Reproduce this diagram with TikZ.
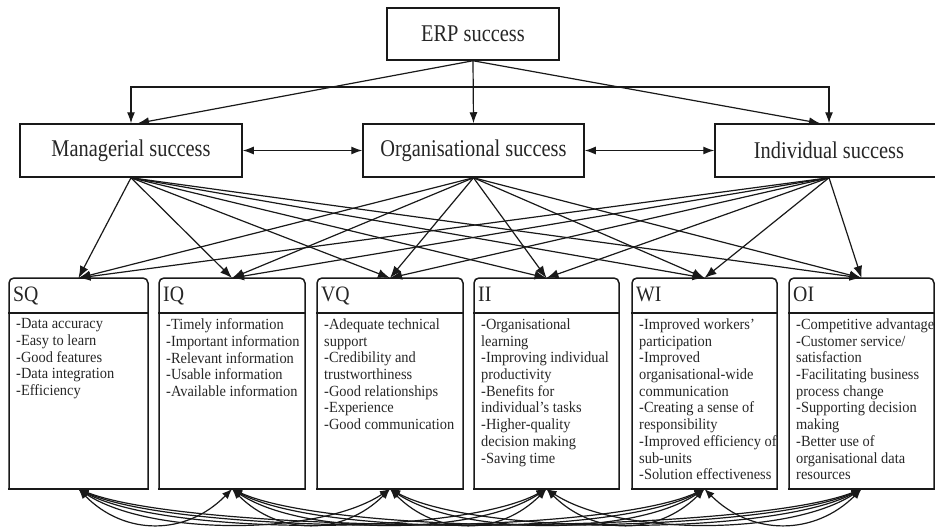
\documentclass[tikz,border=0pt]{standalone}
\usepackage{fontspec}
\setmainfont{Liberation Serif}
\newfontfamily\titlefont[FakeStretch=0.85]{Liberation Serif}
\newfontfamily\hdrfont[FakeStretch=0.9]{Liberation Serif}
\newfontfamily\bodyfont[FakeStretch=0.93]{Liberation Serif}
\usetikzlibrary{arrows.meta,calc}
\definecolor{ink}{gray}{0.1}
\definecolor{txt}{gray}{0.15}
\newcommand\qbox[5]{%
  \node[inner sep=0pt, outer sep=0pt, minimum width={(#3-#2)*1pt}, minimum height=211pt] (#1) at ({(#2+#3)/2},383.5) {};
  \draw[boxline, rounded corners=5pt] (#2,489) -- (#2,278) -- (#3,278) -- (#3,489);
  \draw[boxline] (#2,489) -- (#3,489);
  \draw[boxline] (#2,313) -- (#3,313);
  \node[hdr, anchor=base west] (#1h) at ({#2+4},301) {#4};
  \node[bodytxt, anchor=north west] (#1b) at ({#2+7},318.5) {#5};
}
\begin{document}
\begin{tikzpicture}[x=1pt,y=-1pt,
  boxline/.style={draw=ink, line width=1.5pt, line cap=rect},
  tbox/.style={draw=ink, line width=1.5pt, inner sep=0pt, text=txt,
    font=\titlefont\fontsize{24}{26}\selectfont},
  hdr/.style={inner sep=0pt, text=txt, font=\hdrfont\fontsize{22}{22}\selectfont},
  bodytxt/.style={inner sep=0pt, text=txt, align=left,
    font=\bodyfont\fontsize{15.5}{16.7}\selectfont},
  arr/.style={draw=ink, line width=1.2pt, -{Latex[length=11pt,width=8pt]}},
  dbl/.style={draw=ink, line width=1.2pt, {Latex[length=11pt,width=8pt]}-{Latex[length=11pt,width=8pt]}},
  fan/.style={draw=ink, line width=1.2pt, -{Latex[length=12pt,width=9pt]}},
  bcurve/.style={draw=ink, line width=1.2pt, {Latex[length=10pt,width=8pt]}-{Latex[length=10pt,width=8pt]}}
]
\useasboundingbox (0,0) rectangle (935,528);
\clip (0,0) rectangle (935,528);

% top level
\node[tbox, minimum width=172pt, minimum height=52pt] (erp) at (473,34) {ERP success};
\node[tbox, minimum width=222pt, minimum height=53pt] (man) at (131,150.5) {Managerial success};
\node[tbox, minimum width=221pt, minimum height=53pt] (org) at (473.5,150.5) {Organisational success};
\node[tbox, minimum width=228pt, minimum height=53pt] (ind) at (829,150.5) {Individual success};
\coordinate (bus) at (473,87);

\draw[arr] (erp.south) -- (org.north);
\draw[arr] (erp.south) -- ([xshift=7pt]man.north);
\draw[arr] (erp.south) -- ([xshift=-9pt]ind.north);
\draw[dbl] (man.north) |- (bus) -| (ind.north);
\draw[dbl] (man.east) -- (org.west);
\draw[dbl] (org.east) -- (ind.west);

% lower boxes
\qbox{sq}{9}{148}{SQ}{-Data accuracy\\-Easy to learn\\-Good features\\-Data integration\\-Efficiency}
\qbox{iq}{159}{305}{IQ}{-Timely information\\-Important information\\-Relevant information\\-Usable information\\-Available information}
\qbox{vq}{317}{463}{VQ}{-Adequate technical\\support\\-Credibility and\\trustworthiness\\-Good relationships\\-Experience\\-Good communication}
\qbox{ii}{474}{619}{II}{-Organisational\\learning\\-Improving individual\\productivity\\-Benefits for\\individual’s tasks\\-Higher-quality\\decision making\\-Saving time}
\qbox{wi}{632}{777}{WI}{-Improved workers’\\participation\\-Improved\\organisational-wide\\communication\\-Creating a sense of\\responsibility\\-Improved efficiency of\\sub-units\\-Solution effectiveness}
\qbox{oi}{789}{934}{OI}{-Competitive advantage\\-Customer service/\\satisfaction\\-Facilitating business\\process change\\-Supporting decision\\making\\-Better use of\\organisational data\\resources}

% fan connections
\foreach \s in {man,org,ind}
  \foreach \t in {sq,iq,vq,ii,wi,oi}
    \draw[fan] (\s.south) -- (\t.north);

% bottom curved connections
\foreach \a/\b in {sq/iq,sq/vq,sq/ii,sq/wi,sq/oi,iq/vq,iq/ii,iq/wi,iq/oi,vq/ii,vq/wi,vq/oi,ii/wi,ii/oi,wi/oi}
  \draw[bcurve] let \p1=(\a.south), \p2=(\b.south),
      \n1={min(0.3*(\x2-\x1), 40pt+0.1*(\x2-\x1))} in
      (\a.south) .. controls +(\n1,47) and +(-\n1,47) .. (\b.south);
\end{tikzpicture}
\end{document}
